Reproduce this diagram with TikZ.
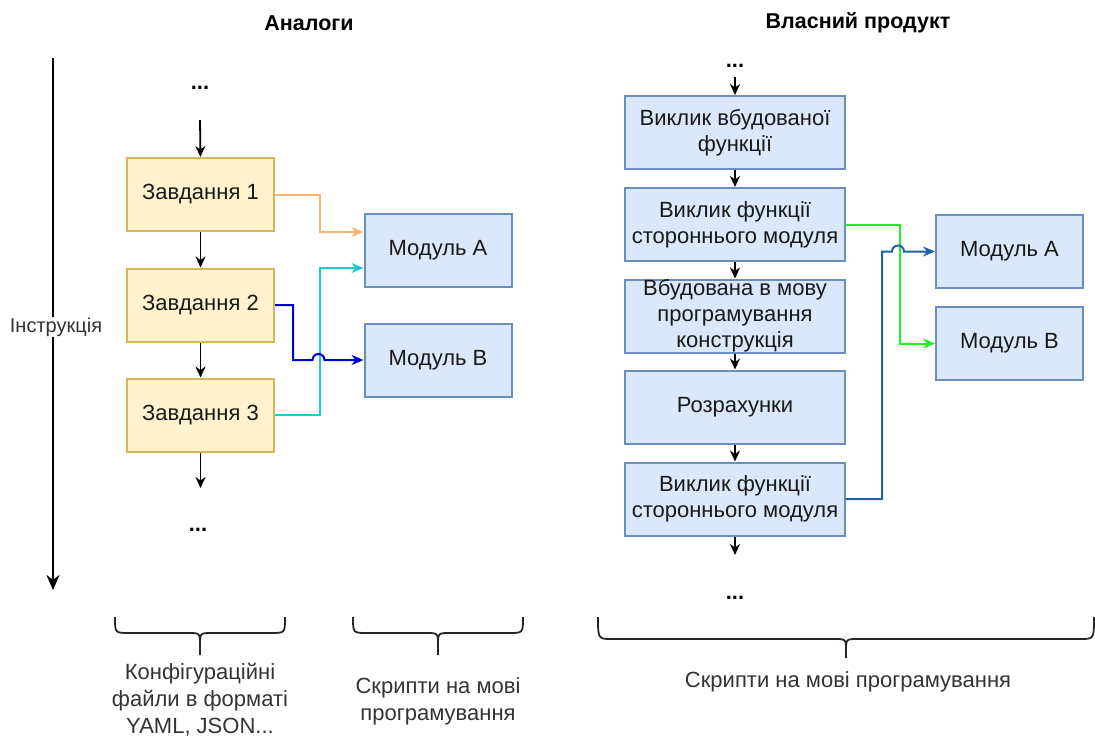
\documentclass[tikz,border=0pt]{standalone}
\usepackage{fontspec}
\setmainfont{Liberation Sans}
\usetikzlibrary{arrows.meta,calc}
\definecolor{zhovtyi}{HTML}{FFF2CC}
\definecolor{zhovtyiram}{HTML}{D6B656}
\definecolor{synii}{HTML}{DAE8FC}
\definecolor{syniiram}{HTML}{6C8EBF}
\definecolor{pomar}{HTML}{FFB570}
\definecolor{biruz}{HTML}{1ECBCB}
\definecolor{temnosynii}{HTML}{0000CC}
\definecolor{zelenyi}{HTML}{22EE22}
\definecolor{stalsynii}{HTML}{2161A8}
\def\duzhka[#1](#2:#3:#4:#5:#6){\draw[#1] (#2,#4) .. controls (#2,#4+#5) .. ({#2+14},{#4+#5}) -- ({(#2+#3)/2-12},{#4+#5}) .. controls ({(#2+#3)/2},{#4+#5}) .. ({(#2+#3)/2},{#4+#5+12}) -- ({(#2+#3)/2},{#4+#6}) ({(#2+#3)/2},{#4+#5+12}) .. controls ({(#2+#3)/2},{#4+#5}) .. ({(#2+#3)/2+12},{#4+#5}) -- ({#3-14},{#4+#5}) .. controls (#3,#4+#5) .. (#3,#4);}

\tikzset{
  tekst/.style={font=\fontsize{22}{26}\selectfont, text=black!90},
  zavd/.style={tekst, draw=zhovtyiram, fill=zhovtyi, line width=2pt, minimum width=147pt, minimum height=73pt, inner sep=0pt, align=center},
  blok/.style={tekst, draw=syniiram, fill=synii, line width=2pt, minimum width=220pt, minimum height=73pt, inner sep=0pt, align=center},
  modul/.style={blok, minimum width=147pt},
  krapky/.style={font=\fontsize{22}{26}\selectfont\bfseries},
  strilka/.style={line width=1.8pt, -{Stealth[length=11pt,width=10pt]}},
  zvyazok/.style={line width=2pt, -{Stealth[length=12pt,width=10pt]}},
  pidpys/.style={font=\fontsize{22}{27}\selectfont, text=black!80, align=center}
}

\begin{document}
\begin{tikzpicture}[x=1pt, y=-1pt]
			\useasboundingbox (0,0) rectangle (1095,737);
			
			%%%%% ЗАГОЛОВКИ %%%%%
			\node[font=\fontsize{21.5}{25}\selectfont\bfseries] (tAnalogy) at (309, 23) {Аналоги};
			\node[font=\fontsize{21.5}{25}\selectfont\bfseries] (tVlasnyi) at (858, 23) {Власний продукт};
			
			%%%%% ВІСЬ %%%%%
			\coordinate (osTop) at (53, 58);
			\coordinate (osBot) at (53, 590);
			\draw[line width=2.6pt, -{Stealth[length=15pt,width=13pt]}] (osTop) -- (osBot);
			\node[fill=white, inner sep=1pt, font=\fontsize{20}{24}\selectfont, text=black!80] (instr) at (56, 327) {Інструкція};
			
			%%%%% АНАЛОГИ %%%%%
			\node[krapky] (kr1) at (200, 88) {...};
			\coordinate (vh1) at (200, 120);
			\node[zavd] (z1) at (200.5, 194.5) {Завдання 1};
			\node[zavd] (z2) at (200.5, 305) {Завдання 2};
			\node[zavd] (z3) at (200.5, 415) {Завдання 3};
			\coordinate (vyh1) at (200.5, 488);
			\node[krapky] (kr2) at (198, 530) {...};
			
			\node[modul] (mA) at (438, 250) {Модуль A};
			\node[modul] (mB) at (438, 360) {Модуль B};
			
			\draw[strilka] (vh1) -- (z1.north);
			\draw[strilka] (z1) -- (z2);
			\draw[strilka] (z2) -- (z3);
			\draw[strilka] (z3.south) -- (vyh1);
			
			\draw[zvyazok, draw=pomar, -{Stealth[length=12pt,width=10pt,fill=pomar]}] (z1.east) -- ++(45,0) |- ($(mA.west)+(0,-18)$);
			\draw[zvyazok, draw=biruz, -{Stealth[length=12pt,width=10pt,fill=biruz]}] (z3.east) -- ++(45,0) |- ($(mA.west)+(0,18)$);
			\draw[zvyazok, draw=temnosynii] (z2.east) -- ++(18,0) |- ($(mB.west)+(-51,0)$) arc (180:0:6pt) -- (mB.west);
			
			%%%%% ВЛАСНИЙ ПРОДУКТ %%%%%
			\node[krapky] (kr3) at (735, 66) {...};
			\coordinate (vh2) at (735, 77);
			\node[blok] (b1) at (735, 132.5) {Виклик вбудованої\\функції};
			\node[blok] (b2) at (735, 224.5) {Виклик функції\\стороннього модуля};
			\node[blok] (b3) at (735, 316) {Вбудована в мову\\програмування\\конструкція};
			\node[blok] (b4) at (735, 407) {Розрахунки};
			\node[blok] (b5) at (735, 499) {Виклик функції\\стороннього модуля};
			\coordinate (vyh2) at (735, 555);
			\node[krapky] (kr4) at (735, 598) {...};
			
			\node[modul] (mA2) at (1009.5, 251.5) {Модуль A};
			\node[modul] (mB2) at (1009.5, 343.5) {Модуль B};
			
			\draw[strilka] (vh2) -- (b1.north);
			\foreach \a/\b in {b1/b2, b2/b3, b3/b4, b4/b5}
				\draw[strilka] (\a.south) -- (\b.north);
			\draw[strilka] (b5.south) -- (vyh2);
			
			\draw[zvyazok, draw=zelenyi, -{Stealth[length=12pt,width=10pt,fill=zelenyi]}] (b2.east) -- ++(54,0) |- (mB2.west);
			\draw[zvyazok, draw=stalsynii] (b5.east) -- ++(36,0) |- ($(mA2.west)+(-43,0)$) arc (180:0:6pt) -- (mA2.west);
			
			%%%%% ДУЖКИ %%%%%
			\duzhka[line width=1.8pt, draw=black!85](115:285:617:16:38)
			\duzhka[line width=1.8pt, draw=black!85](353:523:617:16:38)
			\duzhka[line width=1.8pt, draw=black!85](598:1094:617:22:41)
			
			\node[pidpys] (p1) at (200, 700) {Конфігураційні\\файли в форматі\\YAML, JSON...};
			\node[pidpys] (p2) at (438, 701) {Скрипти на мові\\програмування};
			\node[pidpys] (p3) at (848, 682) {Скрипти на мові програмування};
		\end{tikzpicture}
\end{document}
